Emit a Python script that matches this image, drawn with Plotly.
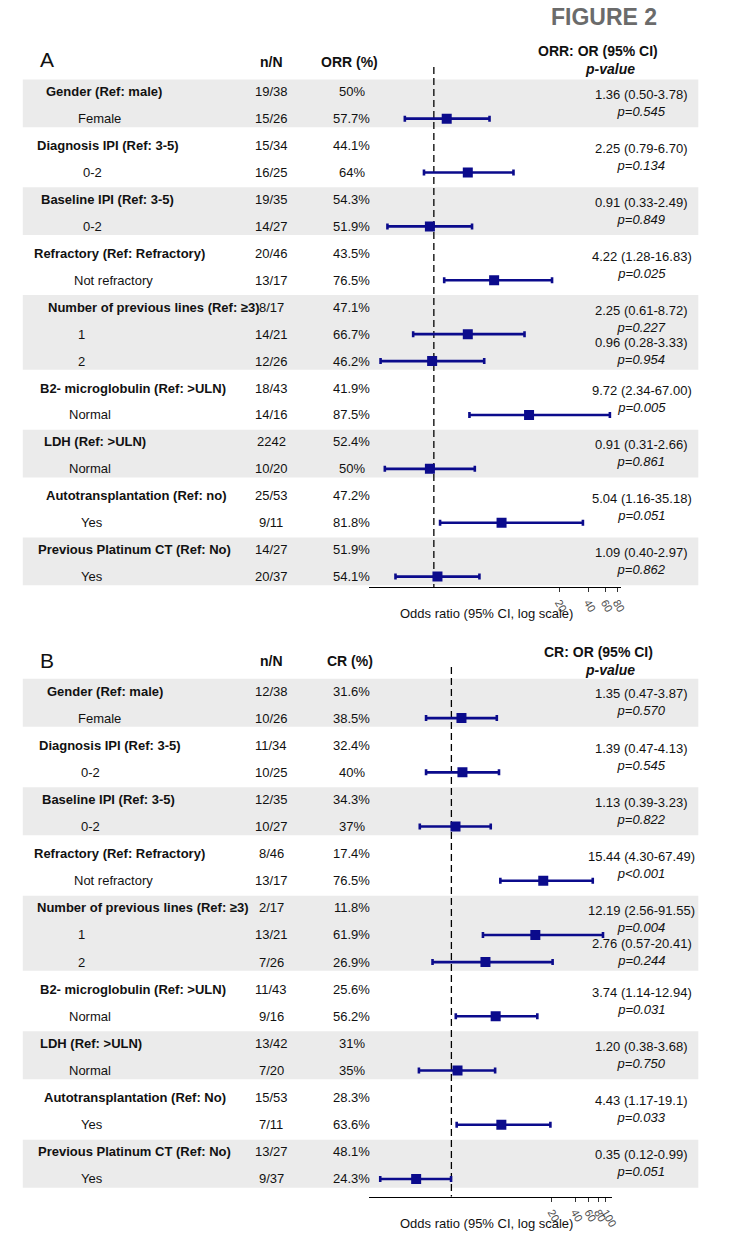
import plotly.graph_objects as go

# ---------------- data ----------------
row_labels_a = ["Gender (Ref: male)", "Female", "Diagnosis IPI (Ref: 3-5)", "0-2",
                "Baseline IPI (Ref: 3-5)", "0-2", "Refractory (Ref: Refractory)", "Not refractory",
                "Number of previous lines (Ref: ≥3)", "1", "2", "B2- microglobulin (Ref: >ULN)", "Normal",
                "LDH (Ref: >ULN)", "Normal", "Autotransplantation (Ref: no)", "Yes",
                "Previous Platinum CT (Ref: No)", "Yes"]
row_labels_b = ["Gender (Ref: male)", "Female", "Diagnosis IPI (Ref: 3-5)", "0-2",
                "Baseline IPI (Ref: 3-5)", "0-2", "Refractory (Ref: Refractory)", "Not refractory",
                "Number of previous lines (Ref: ≥3)", "1", "2", "B2- microglobulin (Ref: >ULN)", "Normal",
                "LDH (Ref: >ULN)", "Normal", "Autotransplantation (Ref: No)", "Yes",
                "Previous Platinum CT (Ref: No)", "Yes"]
is_header = [1, 0, 1, 0, 1, 0, 1, 0, 1, 0, 0, 1, 0, 1, 0, 1, 0, 1, 0]

nN_a = ["19/38", "15/26", "15/34", "16/25", "19/35", "14/27", "20/46", "13/17", "8/17", "14/21",
        "12/26", "18/43", "14/16", "2242", "10/20", "25/53", "9/11", "14/27", "20/37"]
orr_a = ["50%", "57.7%", "44.1%", "64%", "54.3%", "51.9%", "43.5%", "76.5%", "47.1%", "66.7%",
         "46.2%", "41.9%", "87.5%", "52.4%", "50%", "47.2%", "81.8%", "51.9%", "54.1%"]
or_a = [1.36, 2.25, 0.91, 4.22, 2.25, 0.96, 9.72, 0.91, 5.04, 1.09]
lo_a = [0.50, 0.79, 0.33, 1.28, 0.61, 0.28, 2.34, 0.31, 1.16, 0.40]
hi_a = [3.78, 6.70, 2.49, 16.83, 8.72, 3.33, 67.00, 2.66, 35.18, 2.97]
ci_txt_a = ["1.36 (0.50-3.78)", "2.25 (0.79-6.70)", "0.91 (0.33-2.49)", "4.22 (1.28-16.83)",
            "2.25 (0.61-8.72)", "0.96 (0.28-3.33)", "9.72 (2.34-67.00)", "0.91 (0.31-2.66)",
            "5.04 (1.16-35.18)", "1.09 (0.40-2.97)"]
p_a = ["p=0.545", "p=0.134", "p=0.849", "p=0.025", "p=0.227", "p=0.954", "p=0.005", "p=0.861",
       "p=0.051", "p=0.862"]

nN_b = ["12/38", "10/26", "11/34", "10/25", "12/35", "10/27", "8/46", "13/17", "2/17", "13/21",
        "7/26", "11/43", "9/16", "13/42", "7/20", "15/53", "7/11", "13/27", "9/37"]
cr_b = ["31.6%", "38.5%", "32.4%", "40%", "34.3%", "37%", "17.4%", "76.5%", "11.8%", "61.9%",
        "26.9%", "25.6%", "56.2%", "31%", "35%", "28.3%", "63.6%", "48.1%", "24.3%"]
or_b = [1.35, 1.39, 1.13, 15.44, 12.19, 2.76, 3.74, 1.20, 4.43, 0.35]
lo_b = [0.47, 0.47, 0.39, 4.30, 2.56, 0.57, 1.14, 0.38, 1.17, 0.12]
hi_b = [3.87, 4.13, 3.23, 67.49, 91.55, 20.41, 12.94, 3.68, 19.1, 0.99]
ci_txt_b = ["1.35 (0.47-3.87)", "1.39 (0.47-4.13)", "1.13 (0.39-3.23)", "15.44 (4.30-67.49)",
            "12.19 (2.56-91.55)", "2.76 (0.57-20.41)", "3.74 (1.14-12.94)", "1.20 (0.38-3.68)",
            "4.43 (1.17-19.1)", "0.35 (0.12-0.99)"]
p_b = ["p=0.570", "p=0.545", "p=0.822", "p<0.001", "p=0.004", "p=0.244", "p=0.031", "p=0.750",
       "p=0.033", "p=0.051"]

ticks_a = [20, 40, 60, 80]
ticks_b = [20, 40, 60, 80, 100]

# ---------------- layout (positions in page pixels) ----------------
W, H = 738, 1240
NAVY = "#0b0b8c"
FONT = "Liberation Sans, Arial, sans-serif"
BAND = "#ebebeb"
TXT = "#111111"

# left edge of each row label (pixels), as laid out in the original figure
label_left_a = [44, 77, 35, 82, 39, 82, 32, 73, 46, 77, 77, 38, 68, 42, 68, 44, 80, 36, 80]
label_left_b = [45, 77, 37, 80, 40, 80, 32, 73, 35, 77, 77, 38, 68, 38, 68, 42, 80, 36, 80]


def px(x):
    return x / W


def py(y):
    return 1 - y / H


panels = [
    dict(letter="A", rows=row_labels_a, left=label_left_a, nN=nN_a, pct=orr_a, pct_head="ORR (%)",
         or_head="ORR: OR (95% CI)", orv=or_a, lo=lo_a, hi=hi_a, ci=ci_txt_a, p=p_a,
         ticks=ticks_a, xdom=(373, 627), xr=(-0.668, 1.942), ytop=67, ybot=587,
         row0=91.7, step=26.94, head_y=62, letter_y=60, orh_y=51, pv_y=69, title_y=613,
         xa="x", ya="y"),
    dict(letter="B", rows=row_labels_b, left=label_left_b, nN=nN_b, pct=cr_b, pct_head="CR (%)",
         or_head="CR: OR (95% CI)", orv=or_b, lo=lo_b, hi=hi_b, ci=ci_txt_b, p=p_b,
         ticks=ticks_b, xdom=(372.7, 618), xr=(-1.064, 2.08), ytop=667, ybot=1196.7,
         row0=691, step=27.11, head_y=661, letter_y=660, orh_y=652, pv_y=670, title_y=1223,
         xa="x2", ya="y2"),
]

fig = go.Figure()
annotations = []
shapes = []
layout_axes = {}


def txt(x, y, yref, text, anchor="center", size=13, color=TXT):
    return dict(x=x, y=y, xref="paper", yref=yref, xanchor=anchor, yanchor="middle",
                text=text, showarrow=False, align="center",
                font=dict(size=size, family=FONT, color=color))


for k, P in enumerate(panels):
    xa, ya = P["xa"], P["ya"]
    xkey = "xaxis" if xa == "x" else "xaxis" + xa[1:]
    ykey = "yaxis" if ya == "y" else "yaxis" + ya[1:]
    r_top = (P["ytop"] - P["row0"]) / P["step"]
    r_bot = (P["ybot"] - P["row0"]) / P["step"]
    n_rows = len(P["rows"])
    rows_idx = list(range(n_rows))
    sub_rows = [i for i in rows_idx if not is_header[i]]

    # groups (header row + its sub rows)
    groups = []
    for i in rows_idx:
        if is_header[i]:
            groups.append([i, i])
        else:
            groups[-1][1] = i
    for g, (a, b) in enumerate(groups):
        if g % 2 == 0:
            shapes.append(dict(type="rect", xref="paper", yref=ya, x0=px(23), x1=px(705),
                               y0=a - 0.45, y1=min(b + 0.32, r_bot), fillcolor=BAND,
                               line=dict(width=0), layer="below"))

    # reference dashed line at OR = 1
    fig.add_trace(go.Scatter(x=[1, 1], y=[r_top, r_bot], mode="lines",
                             line=dict(color="black", width=1.3, dash="7px,4px"),
                             xaxis=xa, yaxis=ya, hoverinfo="skip", showlegend=False))

    # point estimates with CI
    fig.add_trace(go.Scatter(
        x=P["orv"], y=sub_rows, mode="markers",
        marker=dict(symbol="square", size=10, color=NAVY),
        error_x=dict(type="data", symmetric=False,
                     array=[h - o for h, o in zip(P["hi"], P["orv"])],
                     arrayminus=[o - l for o, l in zip(P["orv"], P["lo"])],
                     color=NAVY, thickness=2.6, width=3),
        xaxis=xa, yaxis=ya, hoverinfo="skip", showlegend=False))

    layout_axes[xkey] = dict(type="log", domain=[px(P["xdom"][0]), px(P["xdom"][1])],
                             range=list(P["xr"]), anchor=ya, showline=True, linecolor="black",
                             linewidth=1.2, ticks="outside", ticklen=4, tickcolor="#333333",
                             tickvals=P["ticks"], ticktext=[str(t) for t in P["ticks"]],
                             tickangle=60, tickfont=dict(size=11, color="#4d4d4d", family=FONT),
                             showgrid=False, zeroline=False, fixedrange=True)
    layout_axes[ykey] = dict(domain=[py(P["ybot"]), py(P["ytop"])], range=[r_bot, r_top],
                             visible=False, anchor=xa, fixedrange=True)

    # row texts
    for i in rows_idx:
        label = "<b>" + P["rows"][i] + "</b>" if is_header[i] else P["rows"][i]
        annotations.append(txt(px(P["left"][i]), i, ya, label, anchor="left"))
        annotations.append(txt(px(274), i, ya, P["nN"][i]))
        annotations.append(txt(px(355), i, ya, P["pct"][i]))

    # OR (95% CI) + p-value blocks, stacked below each group's header
    j = 0
    for a, b in groups:
        for m, r in enumerate(range(a + 1, b + 1)):
            annotations.append(txt(px(648), a + 0.42 + m * 1.22, ya,
                                   P["ci"][j] + "<br><i>" + P["p"][j] + "</i>"))
            j += 1

    # headers
    annotations.append(txt(px(38), py(P["letter_y"]), "paper", P["letter"], anchor="left", size=21))
    annotations.append(txt(px(274), py(P["head_y"]), "paper", "<b>n/N</b>", size=14))
    annotations.append(txt(px(353), py(P["head_y"]), "paper", "<b>" + P["pct_head"] + "</b>", size=14))
    annotations.append(txt(px(604), py(P["orh_y"]), "paper", "<b>" + P["or_head"] + "</b>", size=14))
    annotations.append(txt(px(616), py(P["pv_y"]), "paper", "<b><i>p-value</i></b>", size=14))
    annotations.append(txt(px(491), py(P["title_y"]), "paper", "Odds ratio (95% CI, log scale)"))

annotations.append(txt(px(610), py(17), "paper", "<b>FIGURE 2</b>", size=23, color="#6b6b6b"))

fig.update_layout(width=W, height=H, margin=dict(l=0, r=0, t=0, b=0),
                  paper_bgcolor="white", plot_bgcolor="rgba(0,0,0,0)",
                  annotations=annotations, shapes=shapes, showlegend=False,
                  **layout_axes)

fig.write_html("out.html", config={"displayModeBar": False},
               post_script="document.body.style.margin='0';document.body.style.padding='0';"
                           "document.documentElement.style.overflow='hidden';")
